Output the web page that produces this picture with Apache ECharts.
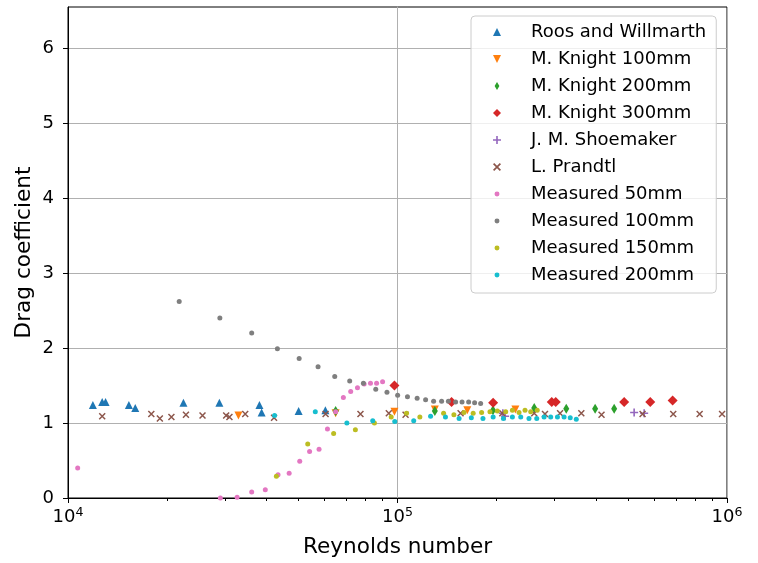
<!DOCTYPE html>
<html>
<head>
<meta charset="utf-8">
<script src="https://cdn.jsdelivr.net/npm/echarts@6/dist/echarts.min.js"></script>
<style>
  html, body { margin: 0; padding: 0; background: #fff; }
  #chart { width: 758px; height: 563px; }
</style>
</head>
<body>
<div id="chart"></div>
<script>
// Drag coefficient of a disk against Reynolds number: literature data and own measurements.
// Each series is a list of [Reynolds number, drag coefficient] pairs.
const roosWillmarth = [[11900,1.24],[12700,1.28],[13000,1.28],[15300,1.24],[16000,1.20],[22400,1.27],[28800,1.27],[38100,1.24],[38700,1.14],[50100,1.16],[60400,1.17]];
const knight100 = [[32900,1.10],[64900,1.13],[97900,1.15],[129800,1.18],[162900,1.17],[227900,1.18]];
const knight200 = [[64900,1.16],[129800,1.16],[194900,1.17],[260000,1.20],[325200,1.19],[397900,1.19],[454500,1.19]];
const knight300 = [[97900,1.50],[145900,1.28],[195100,1.27],[293800,1.28],[302200,1.28],[487400,1.28],[584800,1.28],[683800,1.30]];
const shoemaker = [[208800,1.13],[212100,1.09],[522600,1.14],[560500,1.13]];
const prandtl = [[12700,1.09],[17900,1.12],[19000,1.06],[20600,1.08],[22800,1.11],[25600,1.10],[30200,1.10],[30900,1.08],[34500,1.12],[42200,1.07],[60500,1.12],[77200,1.12],[94100,1.13],[105800,1.11],[155400,1.13],[208000,1.13],[260000,1.13],[280300,1.12],[311400,1.13],[361300,1.13],[416100,1.11],[554300,1.12],[686800,1.12],[826000,1.12],[966000,1.12]];
const measured50 = [[10700,0.40],[29000,0.00],[32600,0.01],[36100,0.08],[39700,0.11],[43400,0.31],[46900,0.33],[50500,0.49],[54100,0.62],[57800,0.65],[61300,0.92],[64900,1.15],[68500,1.34],[72100,1.42],[75600,1.47],[79200,1.52],[82800,1.53],[86400,1.53],[90100,1.55]];
const measured100 = [[21750,2.62],[28900,2.40],[36100,2.20],[43200,1.99],[50300,1.86],[57400,1.75],[64500,1.62],[71600,1.56],[78800,1.53],[85900,1.45],[92900,1.41],[100100,1.37],[107200,1.35],[114700,1.33],[121700,1.31],[128700,1.29],[136100,1.29],[142700,1.29],[150100,1.28],[157000,1.28],[164400,1.28],[171400,1.27],[178800,1.26]];
const measured150 = [[42900,0.29],[53400,0.72],[64000,0.86],[74500,0.91],[85100,1.00],[95700,1.08],[106500,1.13],[116900,1.08],[138000,1.13],[148300,1.11],[159100,1.14],[169700,1.13],[180000,1.14],[190800,1.15],[200900,1.16],[213000,1.15],[223200,1.17],[233800,1.14],[243800,1.17],[253700,1.15],[265500,1.17]];
const measured200 = [[42350,1.10],[56300,1.15],[70200,1.00],[84100,1.03],[98100,1.02],[112000,1.03],[126000,1.09],[139800,1.08],[153800,1.06],[167500,1.07],[181700,1.06],[195100,1.08],[209600,1.06],[223200,1.08],[236600,1.08],[250600,1.06],[264600,1.06],[278500,1.08],[291700,1.08],[305800,1.08],[320300,1.08],[334400,1.07],[348800,1.05]];

// Axis ticks
const xMajorTicks = [10000, 100000, 1000000];
const xMinorTicks = [20000,30000,40000,50000,60000,70000,80000,90000,200000,300000,400000,500000,600000,700000,800000,900000];
const yTicks = [0, 1, 2, 3, 4, 5, 6];

const FONT = 'DejaVu Sans';
const PLUS = 'path://M-0.2,-1 L0.2,-1 L0.2,-0.2 L1,-0.2 L1,0.2 L0.2,0.2 L0.2,1 L-0.2,1 L-0.2,0.2 L-1,0.2 L-1,-0.2 L-0.2,-0.2 Z';
const CROSS = 'path://M-1,-0.7 L-0.7,-1 L1,0.7 L0.7,1 Z M1,-0.7 L-0.7,1 L-1,0.7 L0.7,-1 Z';
const DOWN = 'path://M0,0 L2,0 L1,2 Z';
const THIN_DIAMOND = 'path://M0,-1 L0.6,0 L0,1 L-0.6,0 Z';
const SMALL_DOT = 'path://M0,0 M10,10 M1.9,5 A3.1,3.1 0 1,0 8.1,5 A3.1,3.1 0 1,0 1.9,5 Z';

function scatter(name, data, color, symbol, size) {
  return {
    name: name,
    type: 'scatter',
    data: data,
    symbol: symbol,
    symbolSize: size,
    itemStyle: { color: color, opacity: 1 },
    emphasis: { disabled: true }
  };
}

const chart = echarts.init(document.getElementById('chart'), null, { renderer: 'canvas' });

chart.setOption({
  animation: false,
  textStyle: { fontFamily: FONT },
  grid: {
    left: 68, right: 31, top: 7, bottom: 65,
    show: true, borderColor: '#000', borderWidth: 1, backgroundColor: 'transparent'
  },
  xAxis: [
    {
      type: 'log', logBase: 10, min: 10000, max: 1000000,
      name: 'Reynolds number', nameLocation: 'middle', nameGap: 38, nameMoveOverlap: false,
      nameTextStyle: { fontFamily: FONT, fontSize: 21.6, color: '#000' },
      axisLine: { show: true, lineStyle: { color: '#000', width: 1 } },
      axisTick: { show: true, length: 5, lineStyle: { color: '#000' }, customValues: xMajorTicks },
      axisLabel: {
        margin: 8, color: '#000', fontFamily: FONT, fontSize: 18, customValues: xMajorTicks,
        formatter: function (v) { return '{b|10}{s|' + Math.round(Math.log10(v)) + '}'; },
        rich: {
          b: { fontFamily: FONT, fontSize: 18, color: '#000' },
          s: { fontFamily: FONT, fontSize: 12.6, color: '#000', padding: [0, 0, 9, 0] }
        }
      },
      splitLine: { show: true, lineStyle: { color: '#b0b0b0', width: 1 } }
    },
    {
      // same Reynolds scale, carrying only the minor ticks
      type: 'log', logBase: 10, min: 10000, max: 1000000, position: 'bottom',
      axisLine: { show: false },
      axisTick: { show: true, length: 3, lineStyle: { color: '#000' }, customValues: xMinorTicks },
      axisLabel: { show: false },
      splitLine: { show: false }
    }
  ],
  yAxis: {
    type: 'value', min: 0, max: 6.55, interval: 1,
    name: 'Drag coefficient', nameLocation: 'middle', nameGap: 33, nameMoveOverlap: false,
    nameTextStyle: { fontFamily: FONT, fontSize: 21.6, color: '#000' },
    axisLine: { show: true, lineStyle: { color: '#000', width: 1 } },
    axisTick: { show: true, length: 5, lineStyle: { color: '#000' }, customValues: yTicks },
    axisLabel: { margin: 14, color: '#000', fontFamily: FONT, fontSize: 18, customValues: yTicks },
    splitLine: { show: true, lineStyle: { color: '#b0b0b0', width: 1 } }
  },
  legend: {
    orient: 'vertical', left: 471, top: 16,
    padding: [7, 10, 9, 22], itemGap: 9,
    itemWidth: 8, itemHeight: 8, symbolKeepAspect: true,
    backgroundColor: 'rgba(255,255,255,0.8)', borderColor: '#cccccc', borderWidth: 1, borderRadius: 4,
    textStyle: { fontFamily: FONT, fontSize: 18, color: '#000', padding: [0, 0, 0, 25] },
    data: [
      { name: 'Roos and Willmarth', icon: 'triangle' },
      { name: 'M. Knight 100mm', icon: DOWN },
      { name: 'M. Knight 200mm', icon: THIN_DIAMOND },
      { name: 'M. Knight 300mm', icon: 'diamond' },
      { name: 'J. M. Shoemaker', icon: PLUS },
      { name: 'L. Prandtl', icon: CROSS },
      { name: 'Measured 50mm', icon: SMALL_DOT },
      { name: 'Measured 100mm', icon: SMALL_DOT },
      { name: 'Measured 150mm', icon: SMALL_DOT },
      { name: 'Measured 200mm', icon: SMALL_DOT }
    ]
  },
  series: [
    scatter('Roos and Willmarth', roosWillmarth, '#1f77b4', 'triangle', [8, 8]),
    scatter('M. Knight 100mm', knight100, '#ff7f0e', DOWN, [8, 8]),
    scatter('M. Knight 200mm', knight200, '#2ca02c', THIN_DIAMOND, [6, 10]),
    scatter('M. Knight 300mm', knight300, '#d62728', 'diamond', [10, 10]),
    scatter('J. M. Shoemaker', shoemaker, '#9467bd', PLUS, [8, 8]),
    scatter('L. Prandtl', prandtl, '#8c564b', CROSS, [7, 7]),
    scatter('Measured 50mm', measured50, '#e377c2', 'circle', 5),
    scatter('Measured 100mm', measured100, '#7f7f7f', 'circle', 5),
    scatter('Measured 150mm', measured150, '#bcbd22', 'circle', 5),
    scatter('Measured 200mm', measured200, '#17becf', 'circle', 5)
  ]
});
</script>
</body>
</html>
